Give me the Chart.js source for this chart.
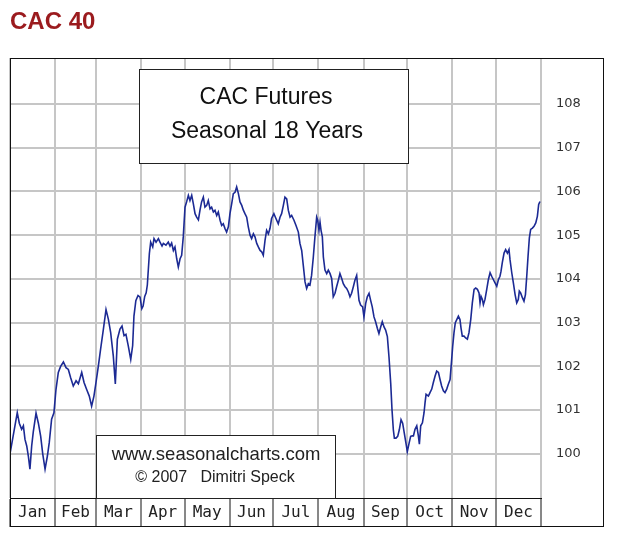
<!DOCTYPE html>
<html>
<head>
<meta charset="utf-8">
<script src="https://cdn.jsdelivr.net/npm/chart.js@4/dist/chart.umd.min.js"></script>
<style>
  html, body { margin: 0; padding: 0; background: #fff; }
</style>
</head>
<body>
<canvas id="myChart" width="620" height="540"></canvas>
<script>
// month row and price axis
const monthNames = ['Jan', 'Feb', 'Mar', 'Apr', 'May', 'Jun', 'Jul', 'Aug', 'Sep', 'Oct', 'Nov', 'Dec'];
const monthStarts = [0, 31, 59, 90, 120, 151, 181, 212, 243, 273, 304, 334, 365];
const priceTicks = [100, 101, 102, 103, 104, 105, 106, 107, 108];

// seasonal pattern: day of year -> index value
const dayOfYear = [
  0.0, 5.0, 6.4, 8.0, 9.2, 10.3, 11.5, 12.6, 13.7, 14.9, 16.0, 17.9, 19.5, 21.1, 22.5, 24.1, 25.7, 27.0, 28.6, 30.2,
  31.6, 33.2, 34.8, 36.7, 38.5, 40.1, 41.7, 43.5, 45.4, 47.0, 49.3, 50.9, 52.7, 54.5, 56.1, 57.7,
  59.1, 60.7, 62.3, 64.2, 66.0, 67.6, 69.2, 71.0, 72.4, 73.8, 75.6, 77.0, 78.4, 79.7, 81.3, 83.0, 84.3, 85.2, 86.5, 88.0, 89.4,
  90.6, 91.5, 92.6, 93.6, 94.4, 95.8, 96.7, 98.1, 99.0, 100.4, 102.0, 103.1, 104.5, 105.4, 107.2, 108.8, 110.0, 111.1, 112.3,
  113.4, 114.6, 115.7, 116.9, 118.0, 119.1,
  120.3, 121.4, 122.6, 123.7, 124.9, 126.0, 127.2, 128.3, 129.5, 130.6, 131.7, 132.9, 134.0, 135.2, 136.3, 137.5, 138.6,
  139.8, 140.9, 142.1, 143.2, 144.4, 145.5, 146.6, 147.8, 148.9, 150.1,
  151.2, 152.4, 153.5, 154.7, 155.8, 157.0, 158.1, 159.3, 160.4, 161.5, 162.7, 163.8, 165.0, 166.1, 167.3, 168.4, 169.6,
  170.7, 171.9, 173.0, 174.1, 175.3, 176.4, 177.6, 178.7, 179.8,
  181.4, 182.8, 184.4, 185.6, 186.7, 187.9, 189.0, 190.2, 191.3, 192.5, 193.6, 195.2, 196.6, 198.2, 199.3, 200.5, 201.6,
  202.8, 203.9, 205.1, 206.2, 207.3, 208.5, 209.6, 210.8, 211.5,
  212.4, 213.1, 213.8, 214.7, 215.4, 216.5, 217.7, 218.8, 220.0, 221.1, 222.2, 223.4, 224.5, 225.7, 226.8, 228.0, 229.1,
  230.3, 231.4, 232.6, 233.7, 234.8, 236.0, 237.1, 238.3, 239.0, 239.9, 241.0, 242.4,
  243.3, 244.5, 245.6, 246.8, 247.9, 249.0, 250.2, 251.3, 252.5, 253.6, 254.8, 255.9, 257.1, 258.2, 259.4, 260.5, 261.7,
  262.6, 263.5, 264.2, 265.3, 266.5, 267.6, 268.8, 269.9, 271.0, 272.2,
  273.1, 274.3, 275.4, 276.5, 277.3, 278.4, 279.6, 280.7, 281.4, 282.3, 283.5, 284.6, 285.3, 286.0, 287.6, 288.7, 289.9,
  291.0, 292.2, 293.3, 294.5, 295.6, 296.7, 297.9, 299.0, 300.2, 301.3, 302.5, 303.6,
  304.3, 305.2, 306.1, 307.1, 308.2, 309.3, 310.0, 310.9, 312.1, 313.2, 314.4, 315.5, 316.7, 317.8, 319.0, 320.1, 321.3,
  322.4, 323.1, 323.8, 324.7, 325.4, 326.5, 327.7, 328.8, 330.0, 331.1, 332.3, 333.4,
  334.6, 335.7, 336.8, 337.5, 338.4, 339.6, 340.7, 341.9, 343.0, 343.7, 344.9, 346.0, 347.2, 348.3, 349.4, 350.1, 351.0,
  352.2, 353.3, 354.3, 355.2, 356.1, 357.0, 357.9, 359.1, 360.2, 361.4, 362.5, 363.4, 364.3
];
const seasonalIndex = [
  100.00, 100.94, 100.70, 100.56, 100.64, 100.33, 100.18, 99.95, 99.65, 100.18, 100.50, 100.93, 100.70, 100.40, 100.00, 99.65, 99.95, 100.26, 100.79, 100.94,
  101.47, 101.86, 102.00, 102.10, 101.97, 101.93, 101.74, 101.55, 101.67, 101.60, 101.86, 101.63, 101.47, 101.32, 101.09, 101.32,
  101.63, 102.00, 102.40, 102.85, 103.30, 103.08, 102.77, 102.24, 101.60, 102.62, 102.85, 102.92, 102.70, 102.73, 102.47, 102.16, 102.47, 103.15, 103.50, 103.62, 103.58,
  103.32, 103.38, 103.60, 103.68, 103.86, 104.58, 104.84, 104.73, 104.92, 104.84, 104.92, 104.84, 104.75, 104.81, 104.77, 104.84, 104.75, 104.82, 104.65,
  104.73, 104.46, 104.27, 104.46, 104.54, 104.96,
  105.64, 105.76, 105.91, 105.79, 105.91, 105.72, 105.49, 105.41, 105.35, 105.57, 105.76, 105.87, 105.64, 105.68, 105.79, 105.60, 105.64,
  105.53, 105.57, 105.45, 105.53, 105.34, 105.22, 105.26, 105.15, 105.07, 105.19,
  105.49, 105.72, 105.95, 105.98, 106.10, 105.95, 105.76, 105.68, 105.57, 105.49, 105.41, 105.19, 105.00, 104.92, 105.03, 104.96, 104.81,
  104.73, 104.65, 104.62, 104.54, 104.88, 105.11, 105.03, 105.15, 105.38,
  105.49, 105.38, 105.26, 105.41, 105.49, 105.68, 105.87, 105.83, 105.57, 105.41, 105.45, 105.34, 105.22, 105.07, 104.81, 104.65, 104.31,
  103.93, 103.78, 103.89, 103.86, 104.08, 104.50, 104.96, 105.41, 105.34,
  105.11, 105.30, 105.11, 104.96, 104.50, 104.20, 104.12, 104.20, 104.12, 104.01, 103.59, 103.67, 103.82, 103.97, 104.12, 104.01, 103.89,
  103.82, 103.78, 103.70, 103.59, 103.67, 103.82, 103.97, 104.08, 103.82, 103.51, 103.40, 103.36,
  103.13, 103.44, 103.59, 103.67, 103.51, 103.36, 103.13, 103.02, 102.87, 102.75, 102.90, 103.02, 102.90, 102.83, 102.68, 102.22, 101.61,
  101.00, 100.55, 100.36, 100.36, 100.40, 100.55, 100.78, 100.70, 100.48, 100.24,
  100.05, 100.24, 100.40, 100.41, 100.41, 100.56, 100.64, 100.41, 100.22, 100.64, 100.71, 100.94, 101.17, 101.36, 101.32, 101.40, 101.48,
  101.63, 101.78, 101.89, 101.86, 101.70, 101.55, 101.44, 101.40, 101.48, 101.59, 101.70, 102.16,
  102.46, 102.77, 103.00, 103.07, 103.15, 103.07, 102.88, 102.69, 102.69, 102.65, 102.62, 102.77, 103.07, 103.45, 103.76, 103.79, 103.76,
  103.68, 103.45, 103.60, 103.53, 103.41, 103.53, 103.76, 103.98, 104.14, 104.06, 103.98, 103.91,
  103.83, 103.98, 104.06, 104.17, 104.37, 104.59, 104.67, 104.59, 104.67, 104.44, 104.14, 103.91, 103.64, 103.45, 103.53, 103.72, 103.68,
  103.57, 103.49, 103.64, 104.06, 104.52, 104.94, 105.13, 105.16, 105.20, 105.28, 105.43, 105.70, 105.77
];

const gridGray = '#c6c6c6';

function drawBox(ctx, x, y, w, h) {
  ctx.fillStyle = '#fff';
  ctx.fillRect(x, y, w, h);
  ctx.strokeStyle = '#222';
  ctx.lineWidth = 1;
  ctx.strokeRect(x + 0.5, y + 0.5, w, h);
}

// caption boxes and outer frame
const boxesPlugin = {
  id: 'boxes',
  afterDatasetsDraw(chart) {
    const ctx = chart.ctx;
    const a = chart.chartArea;
    ctx.save();
    // title box
    drawBox(ctx, a.left + 129, a.top + 11, 269, 94);
    ctx.fillStyle = '#111';
    ctx.textAlign = 'center';
    ctx.textBaseline = 'middle';
    ctx.font = '23px "Liberation Sans", Arial, sans-serif';
    ctx.fillText('CAC Futures', a.left + 256, a.top + 40);
    ctx.fillText('Seasonal 18 Years', a.left + 257, a.top + 74);
    // copyright box
    drawBox(ctx, a.left + 86, a.bottom - 63, 239, 63);
    ctx.fillStyle = '#222';
    ctx.font = '18.5px "Liberation Sans", Arial, sans-serif';
    ctx.fillText('www.seasonalcharts.com', a.left + 206, a.bottom - 43);
    ctx.font = '16px "Liberation Sans", Arial, sans-serif';
    ctx.fillText('\u00A9 2007   Dimitri Speck', a.left + 205, a.bottom - 20);
    ctx.restore();
  },
  afterDraw(chart) {
    const ctx = chart.ctx;
    const a = chart.chartArea;
    const yScale = chart.scales.y;
    const xm = chart.scales.xm;
    ctx.save();
    ctx.strokeStyle = '#111';
    ctx.lineWidth = 1;
    ctx.strokeRect(a.left + 0.5, a.top + 0.5, yScale.right - a.left - 1, xm.bottom - a.top - 1);
    ctx.restore();
  }
};

const ctx = document.getElementById('myChart');
new Chart(ctx, {
  type: 'line',
  data: {
    datasets: [{
      data: dayOfYear.map((d, i) => ({ x: d, y: seasonalIndex[i] })),
      borderColor: '#1c2a94',
      borderWidth: 1.6,
      pointRadius: 0,
      tension: 0,
      fill: false
    }]
  },
  options: {
    responsive: false,
    animation: false,
    layout: { padding: { left: 10, right: 16, top: 0, bottom: 13 } },
    plugins: {
      legend: { display: false },
      tooltip: { enabled: false },
      title: {
        display: true,
        text: 'CAC 40',
        align: 'start',
        color: '#9b1b1e',
        font: { family: '"Liberation Sans", Arial, sans-serif', size: 24, weight: 'bold' },
        padding: { top: 8, bottom: 21.2 }
      }
    },
    scales: {
      // month boundaries: grid lines + black dividers in the month row
      x: {
        type: 'linear',
        position: 'bottom',
        weight: 0,
        min: 0,
        max: 365,
        afterBuildTicks: s => { s.ticks = monthStarts.map(v => ({ value: v })); },
        afterFit: s => { s.height = 0; },
        grid: { color: gridGray, lineWidth: 2, drawTicks: true, tickLength: 29, tickColor: '#111', tickWidth: 1 },
        border: { color: '#111', width: 1 },
        ticks: { display: false }
      },
      // month names centred in each month
      xm: {
        type: 'linear',
        position: 'bottom',
        weight: 1,
        min: 0,
        max: 365,
        afterBuildTicks: s => {
          s.ticks = monthNames.map((m, i) => ({ value: (monthStarts[i] + monthStarts[i + 1]) / 2 }));
        },
        afterFit: s => { s.height = 29; },
        grid: { display: false, drawTicks: false },
        border: { display: false },
        ticks: {
          autoSkip: false,
          maxRotation: 0,
          padding: 5,
          color: '#222',
          font: { family: '"DejaVu Sans Mono", monospace', size: 16 },
          callback: (v, i) => monthNames[i]
        }
      },
      y: {
        type: 'linear',
        position: 'right',
        min: 98.99,
        max: 109.05,
        afterBuildTicks: s => { s.ticks = priceTicks.map(v => ({ value: v })); },
        afterFit: s => { s.width = 63; },
        grid: { color: gridGray, lineWidth: 2, drawTicks: false },
        border: { display: false },
        ticks: {
          padding: 15,
          color: '#333',
          font: { family: '"DejaVu Sans", Verdana, sans-serif', size: 13 }
        }
      }
    }
  },
  plugins: [boxesPlugin]
});
</script>
</body>
</html>
